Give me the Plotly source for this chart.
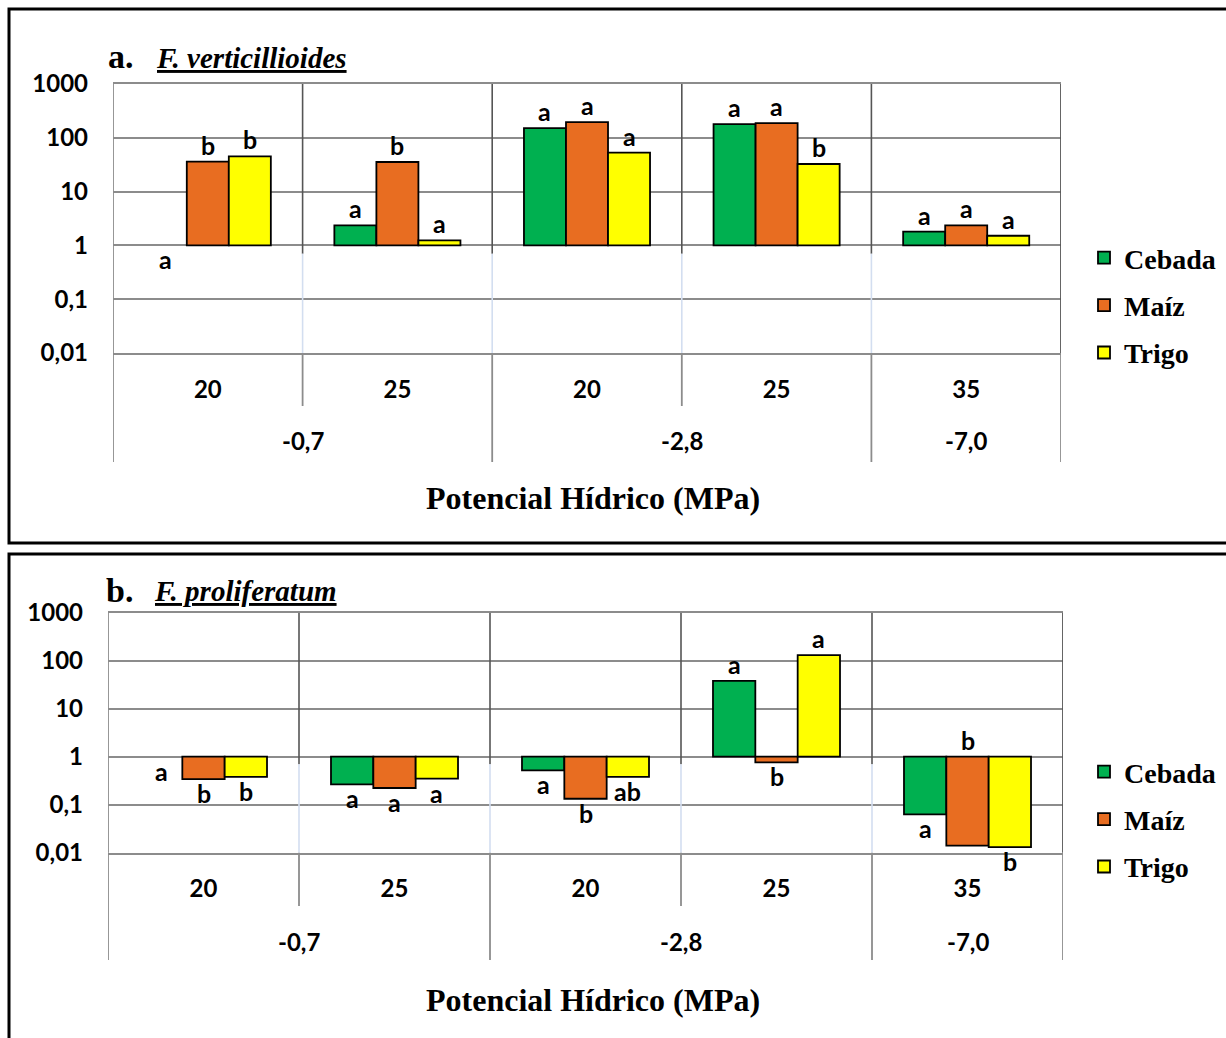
import math
import plotly.graph_objects as go

# ---------------- data ----------------
temps = ["20", "25", "20", "25", "35"]
potentials = ["-0,7", "-0,7", "-2,8", "-2,8", "-7,0"]
series = ["Cebada", "Maíz", "Trigo"]
colors = ["#00B050", "#E86D21", "#FFFF00"]

a_cebada = [1, 2.35, 151, 179, 1.81]
a_maiz = [36, 35.5, 195, 187, 2.35]
a_trigo = [45, 1.24, 53, 32.6, 1.51]
a_letters_cebada = ["a", "a", "a", "a", "a"]
a_letters_maiz = ["b", "b", "a", "a", "a"]
a_letters_trigo = ["b", "a", "a", "b", "a"]
a_side_cebada = ["down", "up", "up", "up", "up"]
a_side_maiz = ["up", "up", "up", "up", "up"]
a_side_trigo = ["up", "up", "up", "up", "up"]

b_cebada = [1, 0.266, 0.52, 38, 0.063]
b_maiz = [0.34, 0.223, 0.133, 0.76, 0.014]
b_trigo = [0.38, 0.35, 0.38, 131, 0.0131]
b_letters_cebada = ["a", "a", "a", "a", "a"]
b_letters_maiz = ["b", "a", "b", "b", "b"]
b_letters_trigo = ["b", "a", "ab", "a", "b"]
b_side_cebada = ["down", "down", "down", "up", "down"]
b_side_maiz = ["down", "down", "down", "down", "up"]
b_side_trigo = ["down", "down", "down", "up", "down"]

ytick_vals = [0.01, 0.1, 1, 10, 100, 1000]
ytick_text = ["0,01", "0,1", "1", "10", "100", "1000"]

# ---------------- layout helpers ----------------
W, H = 1226, 1038
BARGAP = 0.335
def px(x):
    return x / W
def py(y):
    return 1 - y / H

panels = [
    dict(name="a", species="F. verticillioides",
         vals=[a_cebada, a_maiz, a_trigo],
         letters=[a_letters_cebada, a_letters_maiz, a_letters_trigo],
         sides=[a_side_cebada, a_side_maiz, a_side_trigo],
         xd=(113, 1061), yd=(84, 353), inner_ext=406, group_ext=462,
         temp_y=384, group_y=440,
         title_y=57, title_x=(106, 154), axis_title_y=498,
         box=(9, 9, 1240, 543), legend_y=233),
    dict(name="b", species="F. proliferatum",
         vals=[b_cebada, b_maiz, b_trigo],
         letters=[b_letters_cebada, b_letters_maiz, b_letters_trigo],
         sides=[b_side_cebada, b_side_maiz, b_side_trigo],
         xd=(108, 1063), yd=(612.7, 852.7), inner_ext=906, group_ext=960,
         temp_y=883, group_y=941,
         title_y=590, title_x=(104, 152), axis_title_y=1000,
         box=(9, 554, 1240, 1050), legend_y=747),
]

fig = go.Figure()
shapes = []
annotations = []
xpos = list(range(len(temps)))
w = (1 - BARGAP) / len(series)

for p_i, P in enumerate(panels):
    sfx = "" if p_i == 0 else str(p_i + 1)
    xa, ya = "x" + sfx, "y" + sfx
    leg = "legend" + sfx
    x0, x1 = P["xd"]
    y0, y1 = P["yd"]
    ph = y1 - y0
    for k, name in enumerate(series):
        vals = P["vals"][k]
        fig.add_trace(go.Bar(
            x=xpos, y=[(v - 1) if v != 1 else None for v in vals], base=1,
            name=name, xaxis=xa, yaxis=ya, legend=leg,
            legendgroup=P["name"] + name,
            marker=dict(color=colors[k], line=dict(color="black", width=1.8)),
            hovertext=[str(v) for v in vals], hoverinfo="text+name",
        ))
        for i, v in enumerate(vals):
            side = P["sides"][k][i]
            anchor = max(v, 1) if side == "up" else min(v, 1)
            annotations.append(dict(
                x=i + (k - 1) * w, y=math.log10(anchor), xref=xa, yref=ya,
                text=P["letters"][k][i], showarrow=False,
                yanchor="bottom" if side == "up" else "top",
                yshift=0 if side == "up" else 3,
                font=dict(family="Lato", size=25, color="black", weight="bold"),
            ))
    fig.layout["xaxis" + sfx] = dict(
        domain=[px(x0), px(x1)], anchor=ya, range=[-0.5, len(temps) - 0.5],
        tickvals=xpos, ticktext=temps, ticks="", showgrid=False, zeroline=False,
        showline=True, linecolor="#8c8c8c", linewidth=2, mirror=True,
        ticklabelstandoff=int(P["temp_y"] - y1 - 17), automargin=False,
        tickfont=dict(family="Lato", size=24, color="black", weight="bold"),
    )
    fig.layout["yaxis" + sfx] = dict(
        domain=[py(y1), py(y0)], anchor=xa, type="log", range=[-2, 3],
        tickvals=ytick_vals, ticktext=ytick_text, ticks="",
        showgrid=True, gridcolor="#8c8c8c", gridwidth=2, zeroline=False,
        showline=False, ticklabelstandoff=24, automargin=False,
        tickfont=dict(family="Lato", size=24, color="black", weight="bold"),
    )
    inner_d = -(P["inner_ext"] - y1) / ph
    group_d = -(P["group_ext"] - y1) / ph
    # vertical boundaries
    for b in range(len(temps) + 1):
        xb = b - 0.5
        is_edge = b == 0 or b == len(temps)
        is_group = is_edge or potentials[b - 1] != potentials[b]
        if not is_edge:
            shapes.append(dict(type="line", xref=xa, yref=ya, x0=xb, x1=xb,
                               y0=0.7, y1=1000, line=dict(color="#555555", width=1.6)))
            shapes.append(dict(type="line", xref=xa, yref=ya, x0=xb, x1=xb,
                               y0=0.01, y1=0.7, line=dict(color="#d3def0", width=1.6)))
        else:
            shapes.append(dict(type="line", xref=xa, yref=ya + " domain", x0=xb, x1=xb,
                               y0=0, y1=1, line=dict(color="#8c8c8c" if b == 0 else "#555555", width=1.8)))
        shapes.append(dict(type="line", xref=xa, yref=ya + " domain", x0=xb, x1=xb,
                           y0=group_d if is_group else inner_d, y1=0,
                           line=dict(color="#8c8c8c", width=1.8)))
    # group labels
    groups = []
    for i, g in enumerate(potentials):
        if not groups or groups[-1][0] != g:
            groups.append([g, [i]])
        else:
            groups[-1][1].append(i)
    for g, idx in groups:
        annotations.append(dict(
            x=sum(idx) / len(idx), y=py(P["group_y"]), xref=xa, yref="paper",
            text=g, showarrow=False, yanchor="middle",
            font=dict(family="Lato", size=24, color="black", weight="bold"),
        ))
    # panel title
    annotations.append(dict(x=px(P["title_x"][0]), y=py(P["title_y"]), xref="paper", yref="paper",
                            text="<b>" + P["name"] + ".</b>", showarrow=False,
                            xanchor="left", yanchor="middle",
                            font=dict(family="Liberation Serif", size=34, color="black")))
    annotations.append(dict(x=px(P["title_x"][1]), y=py(P["title_y"] + 1), xref="paper", yref="paper",
                            text="<b><i><u>" + P["species"] + "</u></i></b>", showarrow=False,
                            xanchor="left", yanchor="middle",
                            font=dict(family="Liberation Serif", size=29, color="black")))
    annotations.append(dict(x=px(593), y=py(P["axis_title_y"]), xref="paper", yref="paper",
                            text="<b>Potencial Hídrico (MPa)</b>", showarrow=False,
                            xanchor="center", yanchor="middle",
                            font=dict(family="Liberation Serif", size=32, color="black")))
    bx0, by0, bx1, by1 = P["box"]
    shapes.append(dict(type="rect", xref="paper", yref="paper",
                       x0=px(bx0), x1=px(bx1), y0=py(by1), y1=py(by0),
                       line=dict(color="black", width=3)))
    fig.layout[leg] = dict(
        x=px(1084), y=py(P["legend_y"]), xanchor="left", yanchor="top",
        orientation="v", bgcolor="rgba(0,0,0,0)", borderwidth=0,
        tracegroupgap=8,
        font=dict(family="Liberation Serif", size=28, color="black", weight="bold"),
    )

fig.update_layout(
    width=W, height=H, margin=dict(l=0, r=0, t=0, b=0, autoexpand=False),
    paper_bgcolor="white", plot_bgcolor="white",
    barmode="group", bargap=BARGAP, bargroupgap=0,
    shapes=shapes, annotations=annotations, showlegend=True,
)

fig.write_html("out.html", config={"displayModeBar": False},
               post_script="document.body.style.margin='0';document.body.style.overflow='hidden';")
